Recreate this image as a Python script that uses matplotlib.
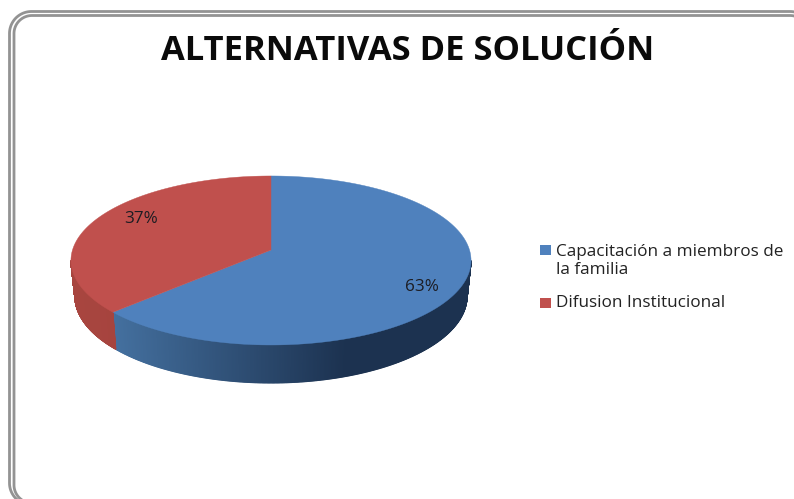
import numpy as np
import matplotlib
matplotlib.use('Agg')
import matplotlib.pyplot as plt
from matplotlib.patches import Polygon, Rectangle

categorias = ['Capacitación a miembros de\nla familia', 'Difusion Institucional']
valores = [63, 37]
etiquetas = ['63%', '37%']
colores = ['#4f81bd', '#c0504d']
# color del lado: (izquierda, derecha)
lados = [('#44709f', '#1c3250'), ('#a8453f', '#9c403b')]

titulo = 'ALTERNATIVAS DE SOLUCIÓN'

plt.rcParams['font.family'] = ['Open Sans', 'DejaVu Sans']

fig = plt.figure(figsize=(7.94, 4.99), dpi=100)
ax = fig.add_axes([0, 0, 1, 1])
ax.set_xlim(0, 794)
ax.set_ylim(499, 0)
ax.axis('off')


def marco(x0, y0, x1, y1, rad):
    # esquina inferior izquierda, lado izquierdo, esquina superior izquierda, lado superior, esquina derecha
    a = np.linspace(0, np.pi / 2, 30)
    xs = np.concatenate([x0 + rad - rad * np.sin(a), x0 + rad - rad * np.cos(a), x1 - rad + rad * np.sin(a)])
    ys = np.concatenate([y1 - rad + rad * np.cos(a), y0 + rad - rad * np.sin(a), y0 + rad - rad * np.cos(a)])
    return xs, ys


# marco doble, se corta a la derecha y abajo
for x0, y0, x1, y1, rad in [(9.5, 11.5, 812, 505, 22), (14, 15.5, 808, 503, 18)]:
    xs, ys = marco(x0, y0, x1, y1, rad)
    ax.plot(xs, ys, color='#939393', lw=2.0, solid_capstyle='butt')

# pastel con perspectiva
cx, cy = 271, 250
ax_r, ay_r = 198.5, 83.2
k = 0.124
x_oscuro = 345


def proyectar(theta, prof=0):
    u = np.sin(theta)
    v = -np.cos(theta)
    w = 1 - k * v
    return cx + ax_r * u / w - prof * 4 * u, cy + ay_r * v / w + prof * (35 + 3 * v)


fracciones = np.array(valores) / sum(valores)
limites = np.concatenate([[0], np.cumsum(fracciones)]) * 2 * np.pi
th_der = np.arccos(-k)
th_izq = 2 * np.pi - th_der


def mezcla(c1, c2, t):
    a = np.array(matplotlib.colors.to_rgb(c1))
    b = np.array(matplotlib.colors.to_rgb(c2))
    return tuple(a + (b - a) * t)


# lado
for i in range(len(valores)):
    ini = max(limites[i], th_der)
    fin = min(limites[i + 1], th_izq)
    ths = np.linspace(ini, fin, 400)
    x_izq = proyectar(fin)[0]
    for a, b in zip(ths[:-1], ths[1:]):
        xa, ya = proyectar(a)
        xb, yb = proyectar(b)
        xa2, ya2 = proyectar(a, 1)
        xb2, yb2 = proyectar(b, 1)
        t = np.clip(((xa + xb) / 2 - x_izq) / (x_oscuro - x_izq), 0, 1)
        c = mezcla(lados[i][0], lados[i][1], t)
        ax.add_patch(Polygon([(xa, ya), (xb, yb), (xb2, yb2), (xa2, ya2)], fc=c, ec=c, lw=0.8))

# cara superior
for i in range(len(valores)):
    ths = np.linspace(limites[i], limites[i + 1], 200)
    xs, ys = proyectar(ths)
    puntos = [(cx, cy)] + list(zip(xs, ys))
    ax.add_patch(Polygon(puntos, fc=colores[i], ec=colores[i], lw=0.3))

ax.text(421.5, 287, etiquetas[0], fontsize=12.3, color='#1c1c22', ha='center', va='center')
ax.text(141, 219, etiquetas[1], fontsize=12.3, color='#1c1c22', ha='center', va='center')

ax.text(408, 60, titulo, fontsize=24.8, fontweight='bold', color='#0a0a0a', ha='center', va='baseline')

# leyenda
ax.add_patch(Rectangle((540, 245), 11, 9.5, fc=colores[0], ec='none'))
ax.add_patch(Rectangle((540, 298), 11, 9.5, fc=colores[1], ec='none'))
ax.text(555.5, 261, categorias[0], fontsize=12.3, color='#222222', ha='left', va='center', linespacing=1.2)
ax.text(555.5, 303, categorias[1], fontsize=12.3, color='#222222', ha='left', va='center')

fig.savefig('out.png', dpi=100)
